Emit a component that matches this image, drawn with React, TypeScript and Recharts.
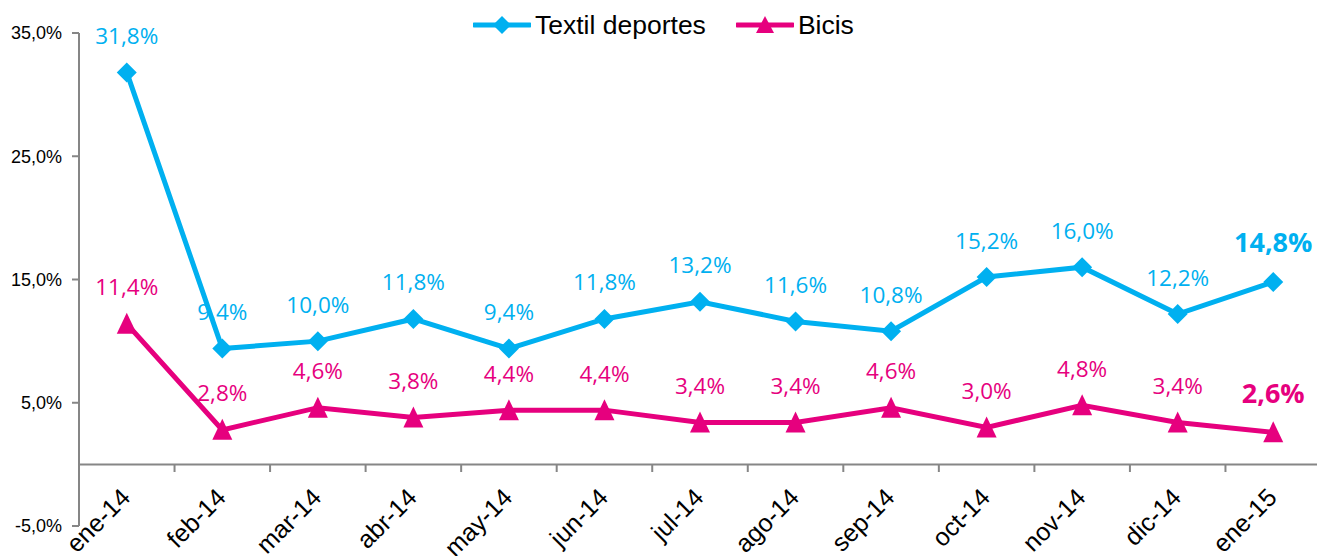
import React from 'react';
import { ComposedChart, Line, XAxis, YAxis, Legend, ReferenceLine, LabelList } from 'recharts';

const categories = ['ene-14', 'feb-14', 'mar-14', 'abr-14', 'may-14', 'jun-14', 'jul-14', 'ago-14', 'sep-14', 'oct-14', 'nov-14', 'dic-14', 'ene-15'];
const textil = [31.8, 9.4, 10.0, 11.8, 9.4, 11.8, 13.2, 11.6, 10.8, 15.2, 16.0, 12.2, 14.8];
const bicis = [11.4, 2.8, 4.6, 3.8, 4.4, 4.4, 3.4, 3.4, 4.6, 3.0, 4.8, 3.4, 2.6];
const yTicks = [-5, 5, 15, 25, 35];
const seriesOrder = ['textil', 'bicis'];

const data = categories.map((c, i) => ({ cat: c, textil: textil[i], bicis: bicis[i] }));

const CYAN = '#00B0F0';
const MAGENTA = '#E6007E';
const GRAY = '#868686';
const ARIAL = '"Liberation Sans", Arial, sans-serif';
const LABEL_FONT = '"Open Sans", "Noto Sans", sans-serif';

const fmt = (v: number) => v.toFixed(1).replace('.', ',') + '%';

const Diamond = (props: any) => {
  const { cx, cy } = props;
  if (cx == null || cy == null) return null;
  const r = 10;
  return <path d={`M${cx},${cy - r}L${cx + r},${cy}L${cx},${cy + r}L${cx - r},${cy}Z`} fill={CYAN} />;
};

const Triangle = (props: any) => {
  const { cx, cy } = props;
  if (cx == null || cy == null) return null;
  return <path d={`M${cx},${cy - 11}L${cx + 10},${cy + 10}L${cx - 10},${cy + 10}Z`} fill={MAGENTA} />;
};

const makeLabel = (color: string) => (props: any) => {
  const { x, y, value, index } = props;
  const last = index === categories.length - 1;
  return (
    <text
      x={x}
      y={y - (last ? 40 : 37)}
      textAnchor="middle"
      dominantBaseline="central"
      fill={color}
      fontFamily={LABEL_FONT}
      fontSize={last ? 27 : 22.5}
      fontWeight={last ? 700 : 400}
    >
      {fmt(value)}
    </text>
  );
};

// Category label plus a tick mark on the 0% line at the left boundary of each category band
const XTick = (props: any) => {
  const { x, y, payload, width, visibleTicksCount } = props;
  const band = width / visibleTicksCount;
  const zeroY = y - 61;
  return (
    <g>
      {payload.index > 0 && (
        <line x1={x - band / 2} x2={x - band / 2} y1={zeroY} y2={zeroY + 7} stroke={GRAY} strokeWidth={2} />
      )}
      <g transform={`translate(${x + 5},${y - 27})`}>
        <text textAnchor="end" transform="rotate(-45)" fontSize={25} fontFamily={ARIAL} fill="#000">
          {payload.value}
        </text>
      </g>
    </g>
  );
};

const LegendContent = (props: any) => {
  const { payload } = props;
  const items = [...(payload || [])].sort(
    (a: any, b: any) => seriesOrder.indexOf(a.dataKey) - seriesOrder.indexOf(b.dataKey)
  );
  return (
    <div style={{ display: 'flex', alignItems: 'center', whiteSpace: 'nowrap' }}>
      {items.map((p: any, i: number) => {
        const isT = p.dataKey === 'textil';
        const color = isT ? CYAN : MAGENTA;
        return (
          <div key={i} style={{ display: 'flex', alignItems: 'center', marginRight: i === 0 ? 30 : 0 }}>
            <svg width={58} height={24} style={{ display: 'block' }}>
              <line x1={1} y1={12} x2={57} y2={12} stroke={color} strokeWidth={5} strokeLinecap="round" />
              {isT ? (
                <path d="M29,3L38,12L29,21L20,12Z" fill={color} />
              ) : (
                <path d="M29,3L38,20L20,20Z" fill={color} />
              )}
            </svg>
            <span style={{ fontFamily: ARIAL, fontSize: 26.5, color: '#000', marginLeft: 4, lineHeight: '24px' }}>{p.value}</span>
          </div>
        );
      })}
    </div>
  );
};

export default function App() {
  return (
    <div style={{ position: 'absolute', left: 0, top: 0, width: 1317, height: 556, overflow: 'hidden', background: '#fff' }}>
      <ComposedChart width={1325} height={556} data={data} margin={{ top: 33, right: 4, bottom: 0, left: 0 }}>
        <XAxis
          dataKey="cat"
          scale="band"
          height={30}
          axisLine={false}
          tickLine={false}
          tickSize={0}
          tickMargin={0}
          interval={0}
          tick={<XTick />}
        />
        <YAxis
          width={79}
          domain={[-5, 35]}
          ticks={yTicks}
          interval={0}
          allowDataOverflow
          axisLine={{ stroke: GRAY, strokeWidth: 2 }}
          tickLine={{ stroke: GRAY, strokeWidth: 2 }}
          tickSize={7}
          tickMargin={10}
          tickFormatter={fmt}
          tick={{ fontSize: 18, fontFamily: ARIAL, fill: '#000' }}
        />
        <ReferenceLine y={0} stroke={GRAY} strokeWidth={2} />
        <Legend
          verticalAlign="middle"
          align="center"
          layout="horizontal"
          wrapperStyle={{ top: 13, left: 473, width: 'auto' }}
          content={<LegendContent />}
        />
        <Line
          dataKey="textil"
          name="Textil deportes"
          stroke={CYAN}
          strokeWidth={5}
          dot={<Diamond />}
          activeDot={false}
          isAnimationActive={false}
        >
          <LabelList dataKey="textil" content={makeLabel(CYAN)} />
        </Line>
        <Line
          dataKey="bicis"
          name="Bicis"
          stroke={MAGENTA}
          strokeWidth={5}
          dot={<Triangle />}
          activeDot={false}
          isAnimationActive={false}
        >
          <LabelList dataKey="bicis" content={makeLabel(MAGENTA)} />
        </Line>
      </ComposedChart>
    </div>
  );
}
